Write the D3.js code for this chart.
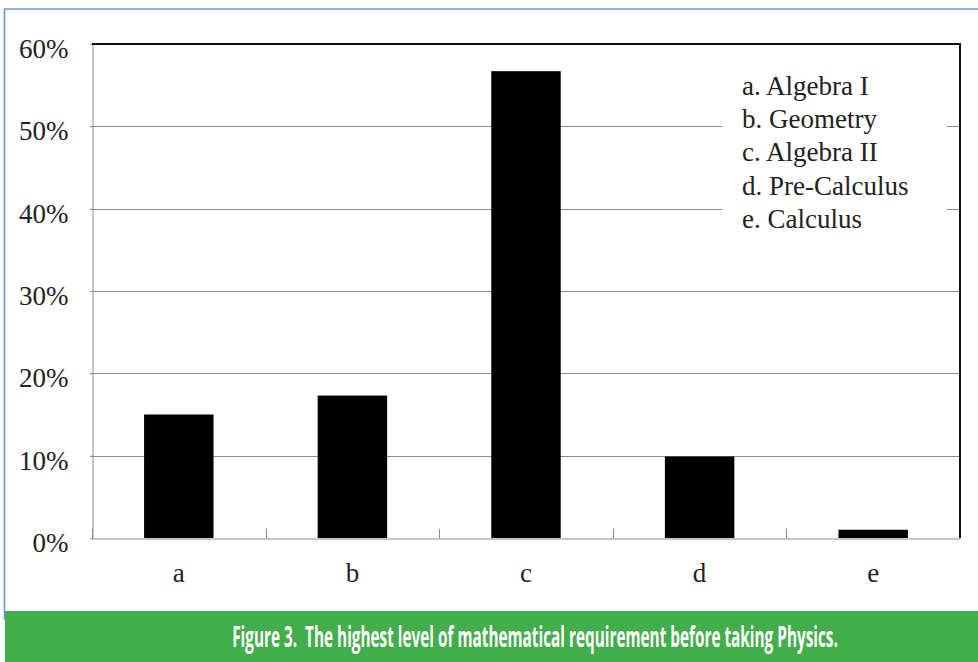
<!DOCTYPE html>
<html>
<head>
<meta charset="utf-8">
<script src="https://cdn.jsdelivr.net/npm/d3@7"></script>
<style>
  html, body { margin: 0; padding: 0; background: #fff; }
  svg { display: block; }
</style>
</head>
<body>
<svg id="chart" width="978" height="662"></svg>
<script>
// Highest level of mathematics completed before taking Physics
const categories = ["a", "b", "c", "d", "e"];
const shares = [0.150, 0.173, 0.567, 0.099, 0.010];
const yTicks = [0, 0.1, 0.2, 0.3, 0.4, 0.5, 0.6];
const legendLabels = ["a. Algebra I", "b. Geometry", "c. Algebra II", "d. Pre-Calculus", "e. Calculus"];
const caption = "Figure 3.  The highest level of mathematical requirement before taking Physics.";

const svg = d3.select("#chart");
const serif = "'Times New Roman', 'Liberation Serif', serif";

const plot = { left: 92, right: 960, top: 44, bottom: 538 };

const x = d3.scaleBand().domain(categories).range([plot.left, plot.right]).padding(0);
const y = d3.scaleLinear().domain([0, 0.6]).range([plot.bottom, plot.top]);

// outer frame lines (left and top edges)
svg.append("line").attr("x1", 4.5).attr("x2", 4.5).attr("y1", 9).attr("y2", 620)
  .attr("stroke", "#6f97d3").attr("stroke-width", 1.6);
svg.append("line").attr("x1", 4).attr("x2", 978).attr("y1", 9).attr("y2", 9)
  .attr("stroke", "#6f97d3").attr("stroke-width", 1.6);

// horizontal gridlines
svg.append("g").selectAll("line")
  .data(yTicks.filter(t => t > 0 && t < 0.6))
  .join("line")
  .attr("x1", plot.left - 2).attr("x2", plot.right)
  .attr("y1", d => Math.round(y(d)) + 0.5).attr("y2", d => Math.round(y(d)) + 0.5)
  .attr("stroke", "#8c8c8c").attr("stroke-width", 1);

// y axis
const yAxis = svg.append("g")
  .attr("transform", `translate(${plot.left + 0.5},0)`)
  .call(d3.axisLeft(y).tickValues(yTicks).tickFormat(d3.format(".0%")).tickSize(2).tickPadding(22));
yAxis.select(".domain").attr("stroke", "#8c8c8c");
yAxis.selectAll(".tick line").attr("stroke", "#8c8c8c");
yAxis.selectAll(".tick text")
  .attr("font-family", serif).attr("font-size", 27).attr("fill", "#222")
  .attr("y", 5);

// bars
const barFrac = 0.4;
svg.append("g").selectAll("rect")
  .data(categories.map((c, i) => ({ c, v: shares[i] })))
  .join("rect")
  .attr("x", d => x(d.c) + x.bandwidth() * (1 - barFrac) / 2)
  .attr("width", x.bandwidth() * barFrac)
  .attr("y", d => y(d.v))
  .attr("height", d => y(0) - y(d.v))
  .attr("fill", "#000");

// x axis with category-boundary ticks pointing inward
const xAxis = svg.append("g")
  .attr("transform", `translate(0,${plot.bottom + 0.5})`)
  .call(d3.axisBottom(x).tickSize(0).tickPadding(24));
xAxis.select(".domain").attr("stroke", "#8c8c8c");
xAxis.selectAll(".tick text")
  .attr("font-family", serif).attr("font-size", 27).attr("fill", "#222");
const bounds = categories.map(c => x(c)).concat([plot.right]);
svg.append("g").selectAll("line")
  .data(bounds)
  .join("line")
  .attr("x1", d => Math.round(d) + 0.5).attr("x2", d => Math.round(d) + 0.5)
  .attr("y1", plot.bottom - 9).attr("y2", plot.bottom)
  .attr("stroke", "#8c8c8c").attr("stroke-width", 1);

// top and right borders of the plot area
svg.append("path")
  .attr("d", `M${plot.left},${plot.top} H${plot.right} V${plot.bottom}`)
  .attr("fill", "none").attr("stroke", "#111").attr("stroke-width", 2);

// legend
const legend = svg.append("g");
legend.append("rect")
  .attr("x", 722).attr("y", 62).attr("width", 225).attr("height", 180)
  .attr("fill", "#fff");
legend.selectAll("text")
  .data(legendLabels)
  .join("text")
  .attr("x", 742)
  .attr("y", (d, i) => 95 + i * 33.2)
  .attr("font-family", serif).attr("font-size", 27).attr("fill", "#222")
  .text(d => d);

// caption banner, text condensed horizontally to fit its slot
svg.append("rect")
  .attr("x", 5).attr("y", 611).attr("width", 973).attr("height", 51)
  .attr("fill", "#42ad4b");
const capCenter = 535, capWidth = 606;
const cap = svg.append("text")
  .attr("x", 0).attr("y", 0)
  .attr("text-anchor", "middle")
  .attr("font-family", "'Open Sans', 'Liberation Sans', sans-serif")
  .attr("font-weight", "bold").attr("font-size", 28)
  .attr("fill", "#fff")
  .attr("xml:space", "preserve")
  .text(caption);
const natural = cap.node().getComputedTextLength();
cap.attr("transform", `translate(${capCenter},647) scale(${capWidth / natural},1)`);
</script>
</body>
</html>
